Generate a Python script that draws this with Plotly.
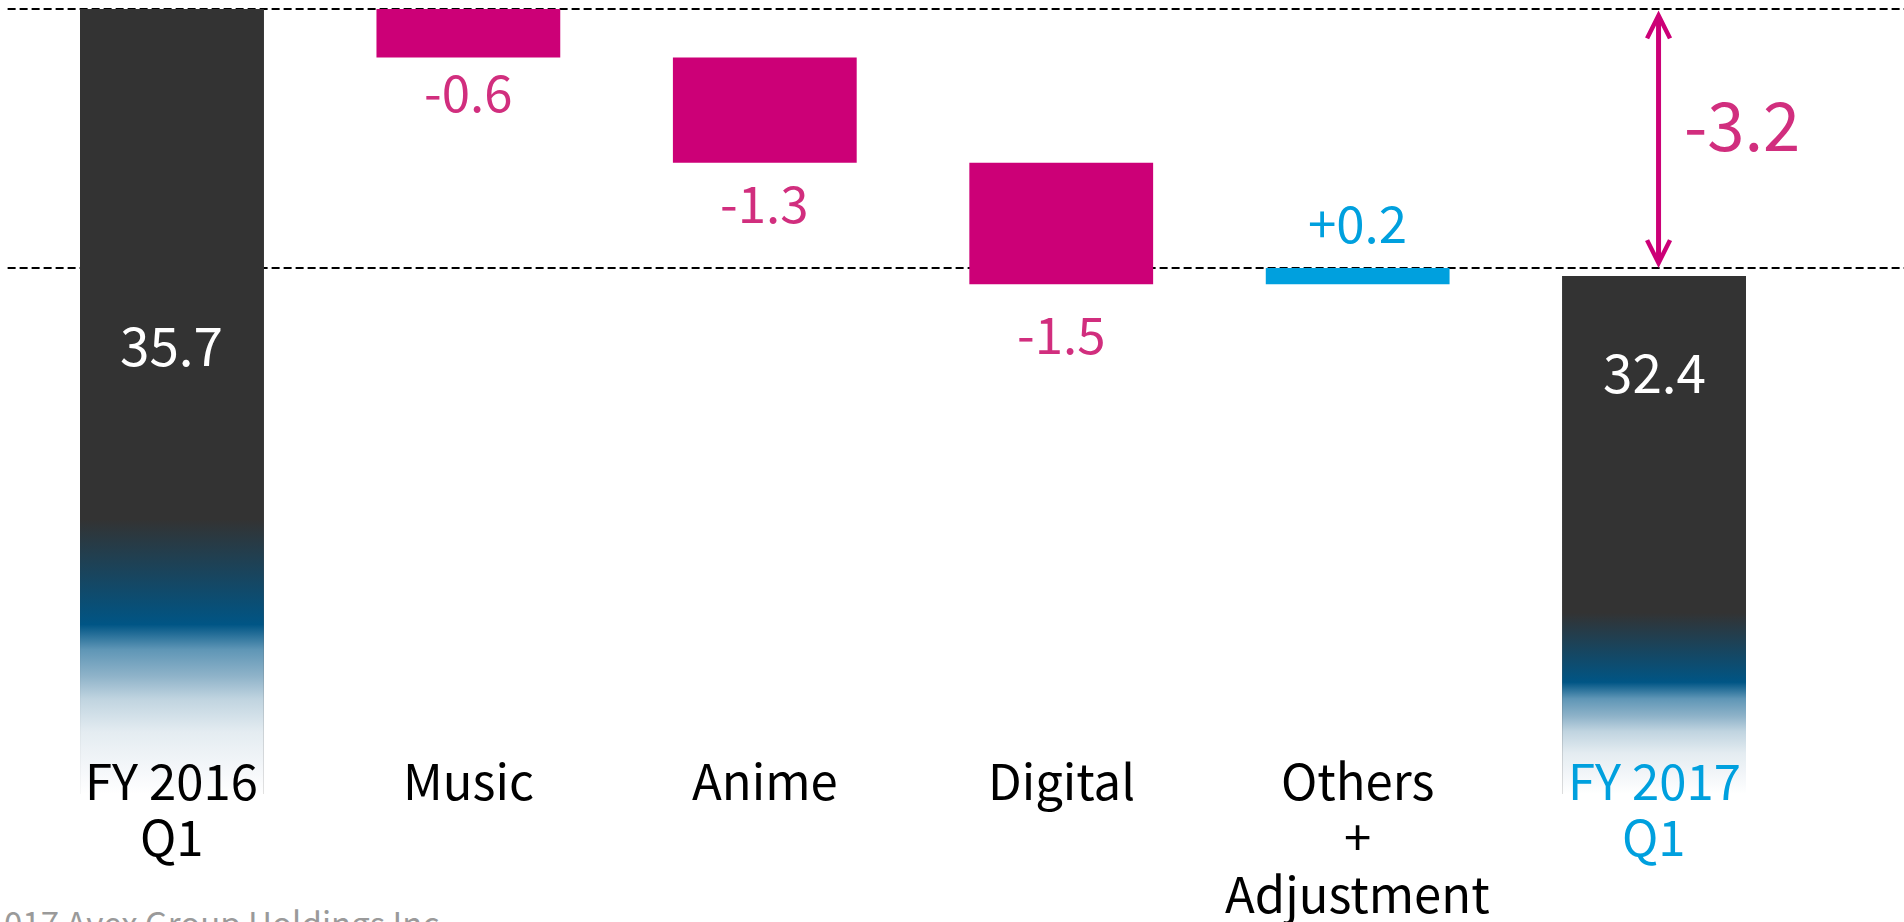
import plotly.graph_objects as go

# ---------------- data ----------------
categories = ["FY 2016<br>Q1", "Music", "Anime", "Digital", "Others<br>+<br>Adjustment", "FY 2017<br>Q1"]
start_total = 35.7
delta_names = ["Music", "Anime", "Digital", "Others + Adjustment"]
deltas = [-0.6, -1.3, -1.5, 0.2]
end_total = 32.4
delta_text = ["-0.6", "-1.3", "-1.5", "+0.2"]
total_text = ["35.7", "32.4"]
change_text = "-3.2"
copyright_text = "017 Avex Group Holdings Inc."

# ---------------- style ----------------
W, H = 1904, 922
AXIS_FLOOR = 26.0            # truncated axis: bars fade out here
Y_RANGE = [24.42, 35.811]
X_RANGE = [-0.580, 5.843]
BAR_W = 0.62
DARK = "#333333"
MAGENTA = "#cc0077"
MAGENTA_TXT = "#d12e7e"
BLUE = "#00a0de"
FONT = "Noto Sans CJK JP"
LABEL_GAP = [32, 38, 48, 47]         # px between bar end and label centre
TOTAL_LABEL_DROP = [334, 94]         # px below bar top for total labels
CAT_COLORS = ["#000000"] * 5 + [BLUE]
GRAD = [
    [0.0, "#ffffff"], [0.036, "#f3f6f9"], [0.079, "#e4ecf1"], [0.121, "#c0d4e0"],
    [0.150, "#8fb3c9"], [0.184, "#5f96b6"], [0.216, "#005585"], [0.35, "#333333"],
    [1.0, "#333333"],
]

idx = list(range(len(categories)))

# cumulative bases for the bridge
bases = []
running = start_total
for d in deltas:
    bases.append(running)
    running += d
after_adjust = running

fig = go.Figure()

# change bars
delta_x = idx[1:1 + len(deltas)]
fig.add_trace(go.Bar(
    x=delta_x, y=deltas, base=bases, width=BAR_W,
    marker=dict(color=[MAGENTA if d < 0 else BLUE for d in deltas], line_width=0),
    hoverinfo="skip",
))

# total bars
total_x = [idx[0], idx[-1]]
totals = [start_total, end_total]
fig.add_trace(go.Bar(
    x=total_x, y=[t - AXIS_FLOOR for t in totals], base=AXIS_FLOOR, width=BAR_W,
    marker=dict(color=DARK, line_width=0), hoverinfo="skip",
))
# gradient fade for the totals (axis break)
for xi, t in zip(total_x, totals):
    fig.add_trace(go.Scatter(
        x=[xi - BAR_W / 2, xi + BAR_W / 2, xi + BAR_W / 2, xi - BAR_W / 2, xi - BAR_W / 2],
        y=[AXIS_FLOOR, AXIS_FLOOR, t, t, AXIS_FLOOR],
        mode="lines", line=dict(width=0, color="rgba(0,0,0,0)"), fill="toself",
        fillgradient=dict(type="vertical", colorscale=GRAD, start=AXIS_FLOOR, stop=t),
        hoverinfo="skip",
    ))

# dashed reference lines
for yv in [start_total, after_adjust]:
    fig.add_shape(type="line", xref="paper", x0=0.004, x1=1, yref="y", y0=yv, y1=yv,
                  line=dict(color="#000000", width=1.8, dash="8px,4px"), layer="below")

# double arrow showing total change
fig.add_annotation(x=idx[-1] + 0.015, y=after_adjust, ax=idx[-1] + 0.015, ay=start_total,
                   xref="x", yref="y", axref="x", ayref="y", text="", showarrow=True,
                   arrowhead=5, startarrowhead=5, arrowside="end+start",
                   arrowwidth=5, arrowsize=0.9, startarrowsize=0.9,
                   arrowcolor=MAGENTA, standoff=0, startstandoff=0)
fig.add_annotation(x=idx[-1], y=(start_total + after_adjust) / 2, xref="x", yref="y",
                   text=change_text, showarrow=False, xshift=88, yshift=17,
                   font=dict(family=FONT, size=67, color=MAGENTA_TXT))

# change labels
for xi, b, d, txt, gap in zip(delta_x, bases, deltas, delta_text, LABEL_GAP):
    end = b + d
    fig.add_annotation(x=xi, y=end, xref="x", yref="y", text=txt, showarrow=False,
                       yanchor="middle", yshift=(gap if d > 0 else -gap),
                       font=dict(family=FONT, size=51, color=MAGENTA_TXT if d < 0 else BLUE))

# total labels
for xi, t, txt, drop in zip(total_x, totals, total_text, TOTAL_LABEL_DROP):
    fig.add_annotation(x=xi, y=t, xref="x", yref="y", text=txt, showarrow=False,
                       yanchor="middle", yshift=-drop,
                       font=dict(family=FONT, size=53, color="#ffffff"))

# category labels (one annotation per line for tight line spacing)
for xi, cat, col in zip(idx, categories, CAT_COLORS):
    for k, line in enumerate(cat.split("<br>")):
        fig.add_annotation(x=xi, xref="x", y=1 - (778 + 56.5 * k) / H, yref="paper",
                           text=line, showarrow=False, yanchor="middle",
                           font=dict(family=FONT, size=49, color=col))

# footer
fig.add_annotation(x=0, xref="paper", xanchor="left", xshift=2, y=1 - 896 / H, yref="paper",
                   yanchor="top", text=copyright_text, showarrow=False,
                   font=dict(family=FONT, size=33, color="#9a9a9a"))

fig.update_layout(
    width=W, height=H, margin=dict(l=0, r=0, t=0, b=0),
    paper_bgcolor="#ffffff", plot_bgcolor="#ffffff",
    barmode="overlay", showlegend=False, hovermode=False,
    xaxis=dict(range=X_RANGE, visible=False, fixedrange=True),
    yaxis=dict(range=Y_RANGE, visible=False, fixedrange=True),
    font=dict(family=FONT),
)

fig.write_html("out.html", config={"displayModeBar": False},
               post_script="document.body.style.margin='0';document.body.style.overflow='hidden';")
